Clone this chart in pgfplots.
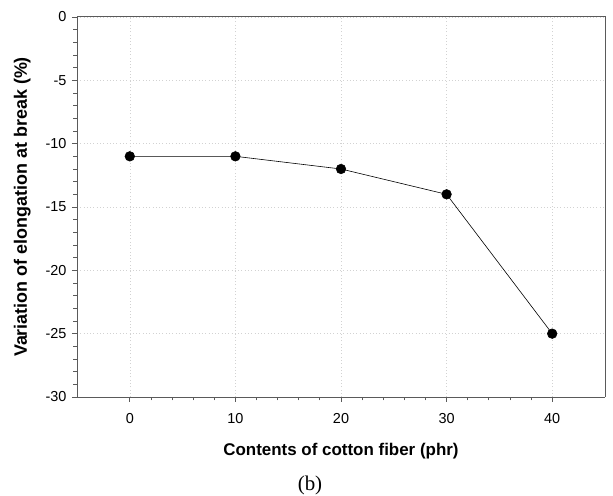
\documentclass[border=0pt]{standalone}
\usepackage{pgfplots}
\pgfplotsset{compat=1.18}
\usepackage{fontspec}
\setmainfont{Liberation Sans}
\newfontfamily\serifcap{Liberation Serif}
\definecolor{axisgray}{RGB}{90,90,90}
\begin{document}
\begin{tikzpicture}[x=1bp,y=1bp]
\useasboundingbox (-77,-99) rectangle (536,397);
\begin{axis}[
  at={(0,0)}, anchor=south west,
  scale only axis,
  width=528bp, height=380bp,
  xmin=-5, xmax=45, ymin=-30, ymax=0,
  xtick={0,10,20,30,40},
  ytick={-30,-25,-20,-15,-10,-5,0},
  minor x tick num=4,
  minor y tick num=4,
  axis x line*=bottom, axis y line*=left,
  tick align=outside,
  major tick length=5bp, minor tick length=3.5bp,
  tick style={axisgray, line width=0.8pt},
  axis line style={axisgray, line width=1pt},
  grid=major,
  major grid style={dash pattern=on 0.8pt off 2.5pt, gray!35, line width=0.6pt},
  /pgf/number format/assume math mode=true,
  ticklabel style={font=\fontsize{14.5}{16}\selectfont},
  xticklabel style={yshift=-8bp},
  yticklabel style={xshift=-2bp},
  xlabel={\textbf{Contents of cotton fiber (phr)}},
  ylabel={\textbf{Variation of elongation at break (\%)}},
  xlabel style={font=\fontsize{17}{19}\selectfont, yshift=-13bp},
  ylabel style={font=\fontsize{18}{20}\selectfont, yshift=8bp},
  clip=false,
]
\addplot[black, line width=0.6pt, mark=*, mark size=4.8bp, mark options={fill=black}]
  coordinates {(0,-11) (10,-11) (20,-12) (30,-14) (40,-25)};
\end{axis}
% frame on the top and right
\draw[axisgray, line width=1pt] (0,380) -- (528,380) -- (528,0);
\node[font=\serifcap\fontsize{21}{23}\selectfont] at (233,-88) {(b)};
\end{tikzpicture}
\end{document}
